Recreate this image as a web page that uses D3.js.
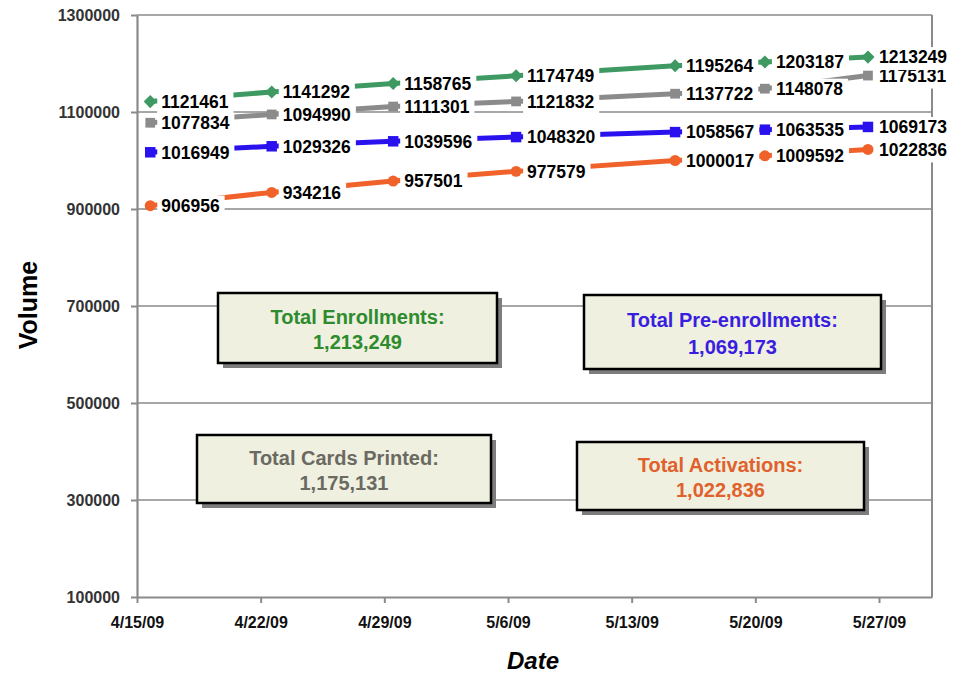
<!DOCTYPE html>
<html>
<head>
<meta charset="utf-8">
<script src="https://cdn.jsdelivr.net/npm/d3@7"></script>
<style>
  html, body { margin: 0; padding: 0; background: #fff; }
  svg { display: block; font-family: "Liberation Sans", Arial, sans-serif; }
</style>
</head>
<body>
<svg id="chart" width="963" height="675"></svg>
<script>
// ---- data ----
const pointDates = ["2009-04-15T18:00", "2009-04-22T15:00", "2009-04-29T12:00", "2009-05-06T11:00", "2009-05-15T11:00", "2009-05-20T13:00", "2009-05-26T09:00"];
const enrollments    = [1121461, 1141292, 1158765, 1174749, 1195264, 1203187, 1213249];
const cardsPrinted   = [1077834, 1094990, 1111301, 1121832, 1137722, 1148078, 1175131];
const preEnrollments = [1016949, 1029326, 1039596, 1048320, 1058567, 1063535, 1069173];
const activations    = [906956, 934216, 957501, 977579, 1000017, 1009592, 1022836];
const xTickDates = ["2009-04-15", "2009-04-22", "2009-04-29", "2009-05-06", "2009-05-13", "2009-05-20", "2009-05-27"];
const yTickValues = [100000, 300000, 500000, 700000, 900000, 1100000, 1300000];
const totalsTitles = ["Total Enrollments:", "Total Pre-enrollments:", "Total Cards Printed:", "Total Activations:"];
const totalsValues = [1213249, 1069173, 1175131, 1022836];

// ---- layout ----
const svg = d3.select("#chart");
const L = 137, R = 932, T = 15, B = 597;
const parseT = d3.timeParse("%Y-%m-%dT%H:%M");
const parseD = d3.timeParse("%Y-%m-%d");
const x = d3.scaleTime().domain([parseD("2009-04-15"), parseD("2009-05-30")]).range([L, R]);
const y = d3.scaleLinear().domain([100000, 1300000]).range([B, T]);
const dates = pointDates.map(parseT);

// drawn bottom to top: activations first, enrollments last
const series = [
  { name: "act", values: activations, color: "#f0622a", marker: d3.symbolCircle, size: 95 },
  { name: "pre", values: preEnrollments, color: "#2a12ee", marker: d3.symbolSquare, size: 110 },
  { name: "cards", values: cardsPrinted, color: "#8b8b8b", marker: d3.symbolSquare, size: 95 },
  { name: "enroll", values: enrollments, color: "#3e9a62", marker: d3.symbolDiamond2, size: 110 }
];

// gridlines
svg.append("g").selectAll("line").data(yTickValues.filter(v => v > 100000)).join("line")
  .attr("x1", L).attr("x2", R).attr("y1", d => y(d)).attr("y2", d => y(d))
  .attr("stroke", "#8a8a8a").attr("stroke-width", 1.6);
// right border
svg.append("line").attr("x1", R).attr("x2", R).attr("y1", T).attr("y2", B)
  .attr("stroke", "#8a8a8a").attr("stroke-width", 2);

// axes
const xAxis = svg.append("g").attr("transform", `translate(0,${B})`)
  .call(d3.axisBottom(x).tickValues(xTickDates.map(parseD)).tickFormat(d3.timeFormat("%-m/%-d/%y")).tickSize(6).tickSizeOuter(0));
const yAxis = svg.append("g").attr("transform", `translate(${L},0)`)
  .call(d3.axisLeft(y).tickValues(yTickValues).tickFormat(d3.format("d")).tickSize(6).tickSizeOuter(0));
[xAxis, yAxis].forEach(a => {
  a.select(".domain").attr("stroke", "#8a8a8a").attr("stroke-width", 2.2);
  a.selectAll(".tick line").attr("stroke", "#8a8a8a").attr("stroke-width", 2);
});
xAxis.selectAll(".tick text").attr("dy", "1.35em")
  .style("font-size", "16px").style("font-weight", "bold").attr("fill", "#111");
yAxis.selectAll(".tick text").attr("x", -17)
  .style("font-size", "16px").style("font-weight", "bold").attr("fill", "#333");

// lines
const line = d3.line().x((d, i) => x(dates[i])).y(d => y(d));
series.forEach(s => {
  svg.append("path").datum(s.values).attr("d", line)
    .attr("fill", "none").attr("stroke", s.color).attr("stroke-width", 5);
});
// markers
series.forEach(s => {
  svg.append("g").selectAll("path").data(s.values).join("path")
    .attr("transform", (d, i) => `translate(${x(dates[i])},${y(d)})`)
    .attr("d", d3.symbol().type(s.marker).size(s.size))
    .attr("fill", s.color);
});
// data labels (with white backgrounds)
series.forEach(s => {
  const g = svg.append("g");
  s.values.forEach((v, i) => {
    const lg = g.append("g");
    const rect = lg.append("rect");
    const t = lg.append("text")
      .attr("x", x(dates[i]) + 11).attr("y", y(v)).attr("dy", "0.36em")
      .style("font-size", "17.5px").style("font-weight", "bold").attr("fill", "#000")
      .text(v);
    const w = t.node().getComputedTextLength();
    rect.attr("x", x(dates[i]) + 7).attr("y", y(v) - 10).attr("width", w + 9).attr("height", 23)
      .attr("fill", "#fff");
  });
});

// axis titles
svg.append("text").attr("transform", "translate(37,305) rotate(-90)")
  .attr("text-anchor", "middle").style("font-size", "25px").style("font-weight", "bold")
  .attr("fill", "#000").text("Volume");
svg.append("text").attr("x", 533).attr("y", 669)
  .attr("text-anchor", "middle").style("font-size", "24px").style("font-weight", "bold")
  .style("font-style", "italic").attr("fill", "#000").text("Date");

// totals boxes
const boxes = [
  { x0: 218, y0: 293, x1: 497, y1: 363, color: "#2e8b2e" },
  { x0: 584, y0: 295, x1: 881, y1: 369, color: "#3a1ee0" },
  { x0: 197, y0: 435, x1: 491, y1: 503, color: "#6a6a62" },
  { x0: 577, y0: 442, x1: 864, y1: 510, color: "#e0612c" }
];
const fmt = d3.format(",");
boxes.forEach((b, i) => {
  const g = svg.append("g");
  g.append("rect").attr("x", b.x0 + 5).attr("y", b.y0 + 5).attr("width", b.x1 - b.x0).attr("height", b.y1 - b.y0)
    .attr("fill", "#7d7d7d");
  g.append("rect").attr("x", b.x0).attr("y", b.y0).attr("width", b.x1 - b.x0).attr("height", b.y1 - b.y0)
    .attr("fill", "#eff0e0").attr("stroke", "#000").attr("stroke-width", 2.5);
  const cx = (b.x0 + b.x1) / 2, h = b.y1 - b.y0;
  g.append("text").attr("x", cx).attr("y", b.y0 + h * 0.34).attr("dy", "0.36em").attr("text-anchor", "middle")
    .style("font-size", "20px").style("font-weight", "bold").attr("fill", b.color).text(totalsTitles[i]);
  g.append("text").attr("x", cx).attr("y", b.y0 + h * 0.70).attr("dy", "0.36em").attr("text-anchor", "middle")
    .style("font-size", "20px").style("font-weight", "bold").attr("fill", b.color).text(fmt(totalsValues[i]));
});
</script>
</body>
</html>
